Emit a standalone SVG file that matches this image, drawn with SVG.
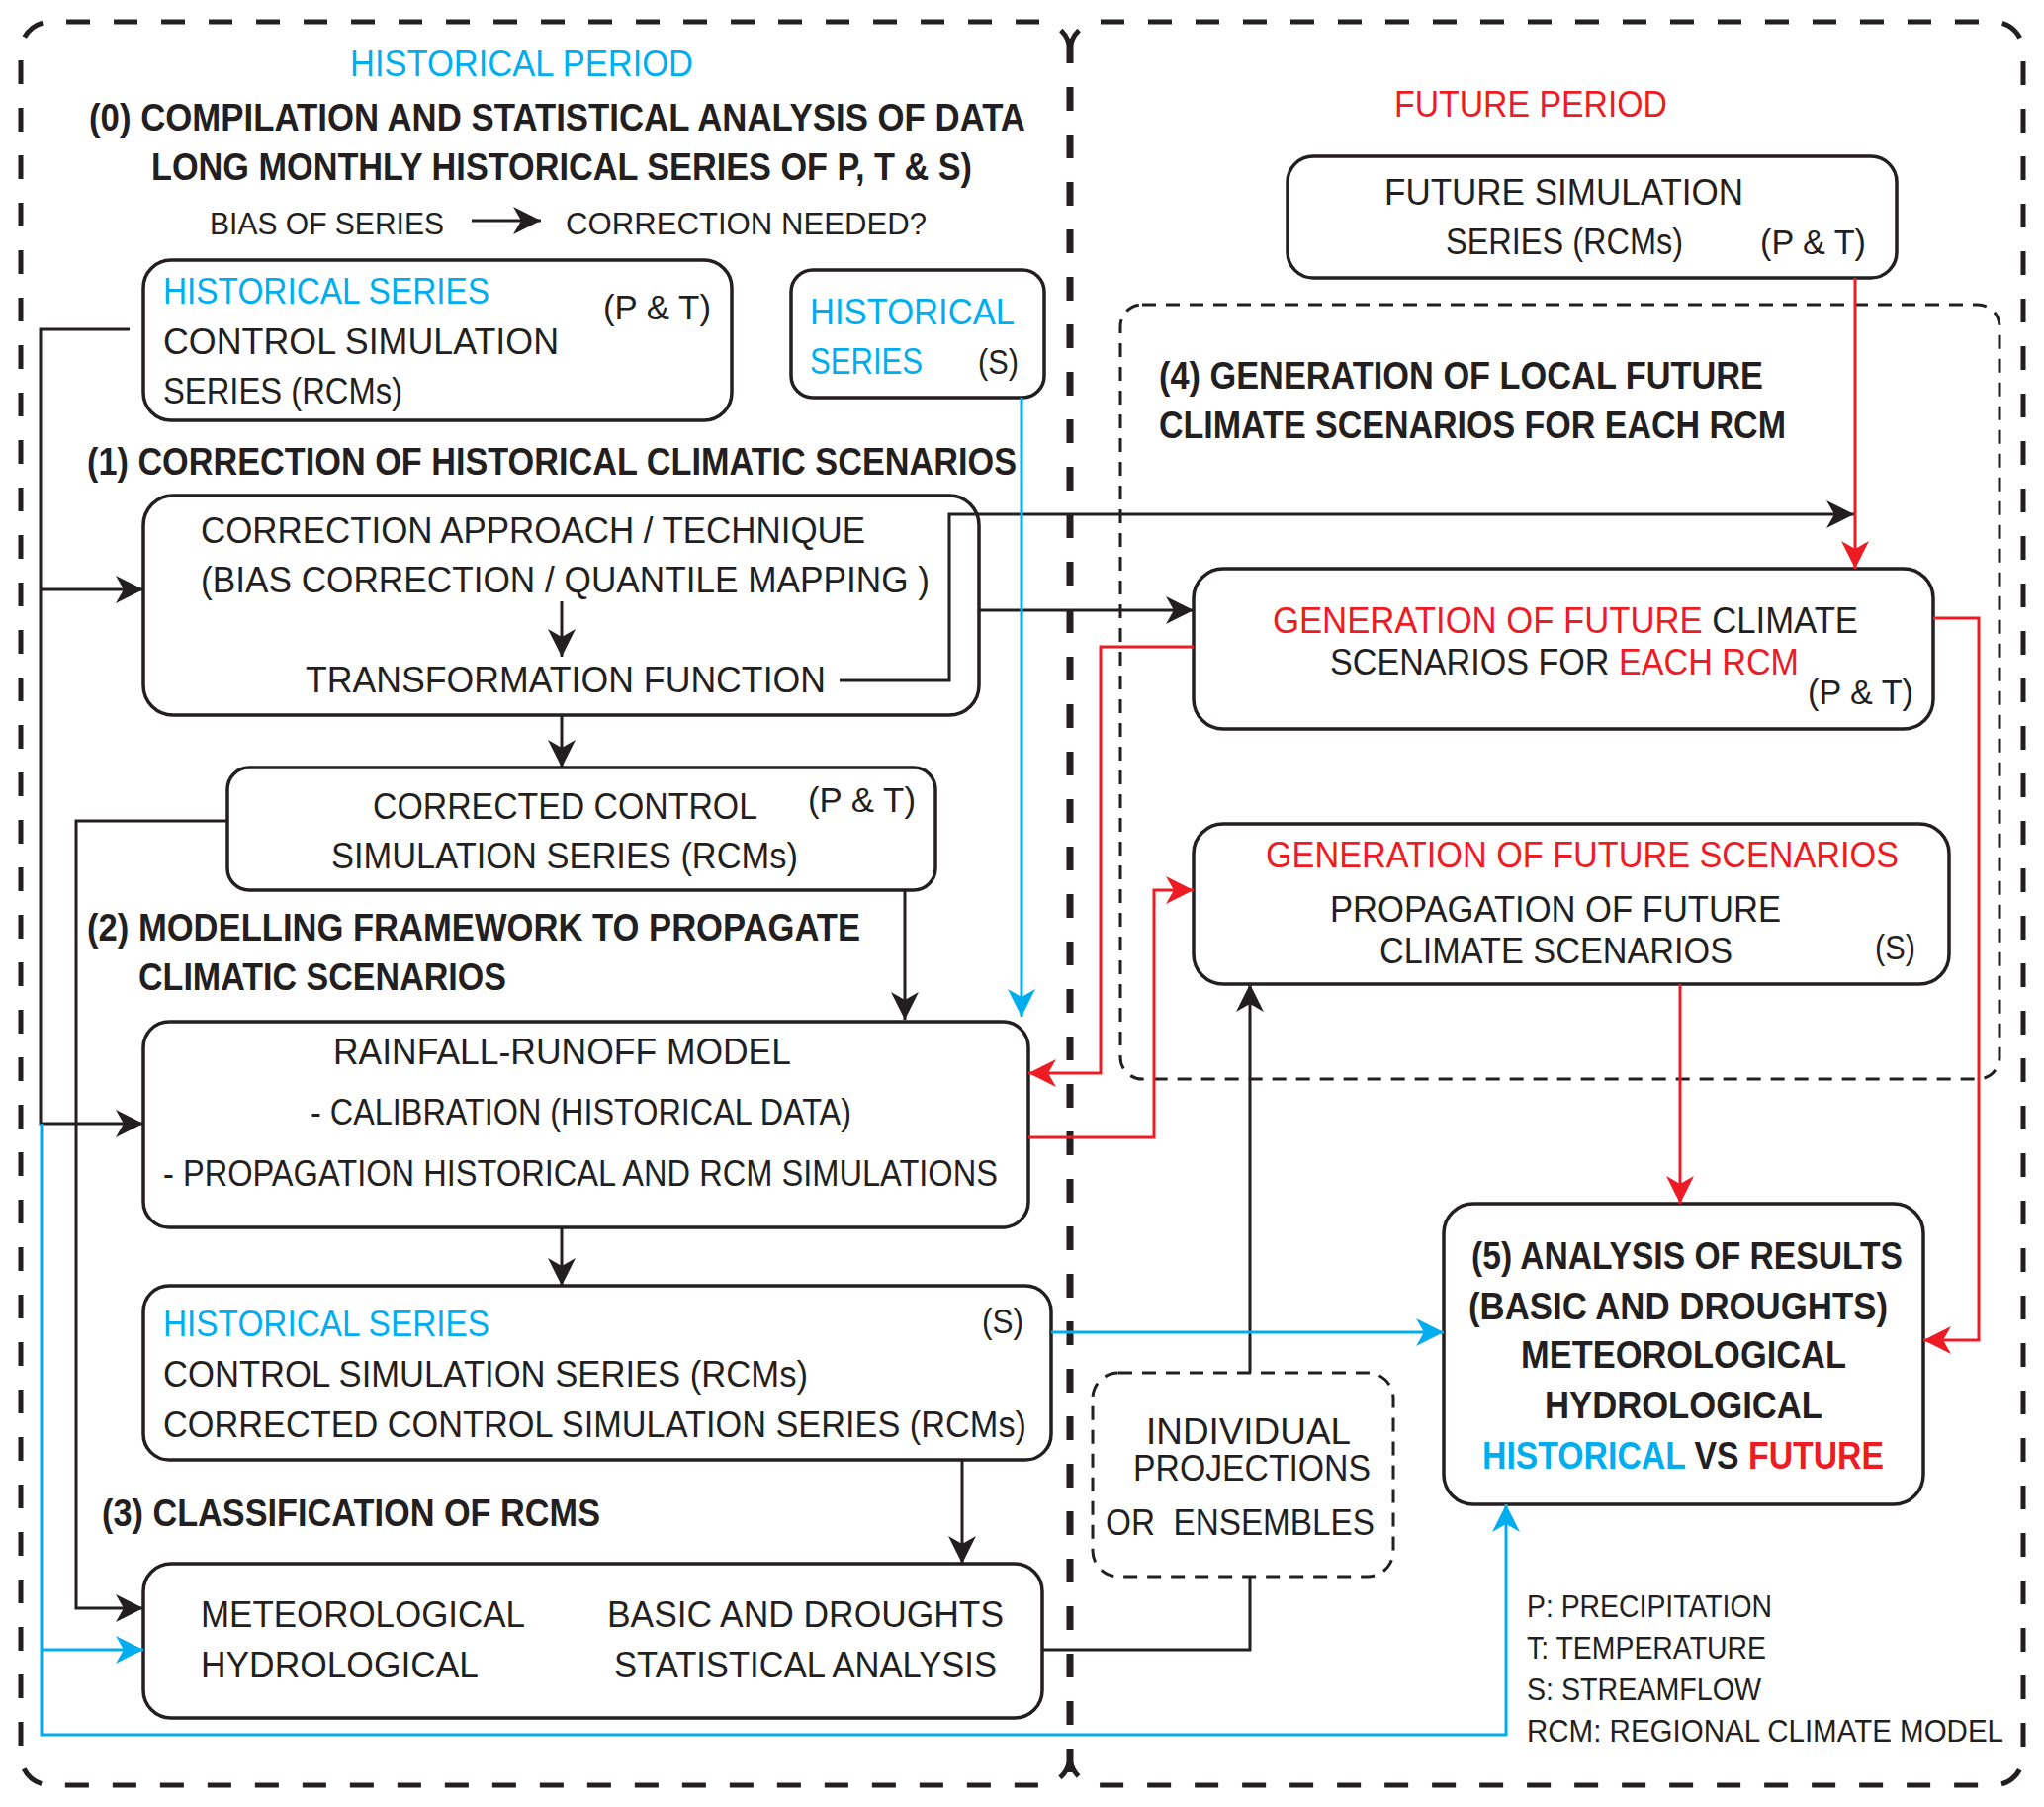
<svg xmlns="http://www.w3.org/2000/svg" width="2067" height="1827" viewBox="0 0 2067 1827">
<style>
.t{font-family:"Liberation Sans",Arial,sans-serif;font-size:37px;fill:#231F20}
.b{font-weight:bold;font-size:39px}
.bl{fill:#00AEEF}
.rd{fill:#ED1C24}
.lg{font-size:31px}
.sm{font-size:35px}
.box{fill:#fff;stroke:#231F20;stroke-width:3.5}
.frame{fill:none;stroke:#231F20;stroke-width:5;stroke-dasharray:24 24}
.dbox{fill:none;stroke:#231F20;stroke-width:3;stroke-dasharray:14 10}
.k{fill:none;stroke:#231F20;stroke-width:3}
.r{fill:none;stroke:#ED1C24;stroke-width:3}
.c{fill:none;stroke:#00AEEF;stroke-width:3}
</style>
<defs>
<marker id="ak" markerUnits="userSpaceOnUse" markerWidth="32" markerHeight="32" viewBox="-30 -16 32 32" refX="0" refY="0" orient="auto"><path d="M0,0 L-28,-14 L-20,0 L-28,14 Z" fill="#231F20"/></marker>
<marker id="ar" markerUnits="userSpaceOnUse" markerWidth="32" markerHeight="32" viewBox="-30 -16 32 32" refX="0" refY="0" orient="auto"><path d="M0,0 L-28,-14 L-20,0 L-28,14 Z" fill="#ED1C24"/></marker>
<marker id="ac" markerUnits="userSpaceOnUse" markerWidth="32" markerHeight="32" viewBox="-30 -16 32 32" refX="0" refY="0" orient="auto"><path d="M0,0 L-28,-14 L-20,0 L-28,14 Z" fill="#00AEEF"/></marker>
</defs>
<rect width="2067" height="1827" fill="#fff"/>

<g id="frames">
<path class="frame" d="M1082,52 A30,30 0 0 0 1052,22 L51,22 A30,30 0 0 0 21,52 L21,1775 A30,30 0 0 0 51,1805 L1052,1805 A30,30 0 0 0 1082,1775"/>
<path class="frame" d="M1082,52 A30,30 0 0 1 1112,22 L2016,22 A30,30 0 0 1 2046,52 L2046,1775 A30,30 0 0 1 2016,1805 L1112,1805 A30,30 0 0 1 1082,1775"/>
<path class="frame" style="stroke-width:7" d="M1082,40 L1082,1795"/>
<rect id="step4-frame" class="dbox" x="1133" y="308" width="889" height="783" rx="22"/>
</g>

<g id="titles">
<text class="t bl" x="354" y="77" textLength="347" lengthAdjust="spacingAndGlyphs">HISTORICAL PERIOD</text>
<text class="t b" x="90" y="132" textLength="947" lengthAdjust="spacingAndGlyphs">(0) COMPILATION AND STATISTICAL ANALYSIS OF DATA</text>
<text class="t b" x="153" y="182" textLength="830" lengthAdjust="spacingAndGlyphs">LONG MONTHLY HISTORICAL SERIES OF P, T &amp; S)</text>
<text class="t lg" x="212" y="237" textLength="237" lengthAdjust="spacingAndGlyphs">BIAS OF SERIES</text>
<text class="t lg" x="572" y="237" textLength="365" lengthAdjust="spacingAndGlyphs">CORRECTION NEEDED?</text>
<text class="t b" x="88" y="480" textLength="940" lengthAdjust="spacingAndGlyphs">(1) CORRECTION OF HISTORICAL CLIMATIC SCENARIOS</text>
<text class="t b" x="88" y="951" textLength="782" lengthAdjust="spacingAndGlyphs">(2) MODELLING FRAMEWORK TO PROPAGATE</text>
<text class="t b" x="140" y="1001" textLength="372" lengthAdjust="spacingAndGlyphs">CLIMATIC SCENARIOS</text>
<text class="t b" x="103" y="1543" textLength="504" lengthAdjust="spacingAndGlyphs">(3) CLASSIFICATION OF RCMS</text>
<text class="t rd" x="1410" y="118" textLength="276" lengthAdjust="spacingAndGlyphs">FUTURE PERIOD</text>
<text class="t b" x="1172" y="393" textLength="611" lengthAdjust="spacingAndGlyphs">(4) GENERATION OF LOCAL FUTURE</text>
<text class="t b" x="1172" y="443" textLength="634" lengthAdjust="spacingAndGlyphs">CLIMATE SCENARIOS FOR EACH RCM</text>
</g>

<g id="hist-series-pt">
<rect class="box" x="145" y="263" width="595" height="162" rx="28"/>
<text class="t bl" x="165" y="307" textLength="330" lengthAdjust="spacingAndGlyphs">HISTORICAL SERIES</text>
<text class="t" x="165" y="358" textLength="400" lengthAdjust="spacingAndGlyphs">CONTROL SIMULATION</text>
<text class="t" x="165" y="408" textLength="242" lengthAdjust="spacingAndGlyphs">SERIES (RCMs)</text>
<text class="t sm" x="610" y="323" textLength="109" lengthAdjust="spacingAndGlyphs">(P &amp; T)</text>
</g>

<g id="hist-series-s">
<rect class="box" x="800" y="273" width="256" height="129" rx="22"/>
<text class="t bl" x="819" y="328" textLength="207" lengthAdjust="spacingAndGlyphs">HISTORICAL</text>
<text class="t bl" x="819" y="378" textLength="114" lengthAdjust="spacingAndGlyphs">SERIES</text>
<text class="t sm" x="989" y="378" textLength="41" lengthAdjust="spacingAndGlyphs">(S)</text>
</g>

<g id="correction">
<rect class="box" x="145" y="501" width="845" height="222" rx="30"/>
<text class="t" x="203" y="549" textLength="672" lengthAdjust="spacingAndGlyphs">CORRECTION APPROACH / TECHNIQUE</text>
<text class="t" x="203" y="599" textLength="737" lengthAdjust="spacingAndGlyphs">(BIAS CORRECTION / QUANTILE MAPPING )</text>
<text class="t" x="309" y="700" textLength="526" lengthAdjust="spacingAndGlyphs">TRANSFORMATION FUNCTION</text>
</g>

<g id="corrected-control">
<rect class="box" x="230" y="776" width="716" height="124" rx="22"/>
<text class="t" x="377" y="828" textLength="389" lengthAdjust="spacingAndGlyphs">CORRECTED CONTROL</text>
<text class="t" x="335" y="878" textLength="472" lengthAdjust="spacingAndGlyphs">SIMULATION SERIES (RCMs)</text>
<text class="t sm" x="817" y="821" textLength="109" lengthAdjust="spacingAndGlyphs">(P &amp; T)</text>
</g>

<g id="rainfall-runoff">
<rect class="box" x="145" y="1033" width="895" height="208" rx="26"/>
<text class="t" x="337" y="1076" textLength="463" lengthAdjust="spacingAndGlyphs">RAINFALL-RUNOFF MODEL</text>
<text class="t" x="314" y="1137" textLength="547" lengthAdjust="spacingAndGlyphs">- CALIBRATION (HISTORICAL DATA)</text>
<text class="t" x="165" y="1199" textLength="844" lengthAdjust="spacingAndGlyphs">- PROPAGATION HISTORICAL AND RCM SIMULATIONS</text>
</g>

<g id="hist-series-s2">
<rect class="box" x="145" y="1300" width="918" height="176" rx="26"/>
<text class="t bl" x="165" y="1351" textLength="330" lengthAdjust="spacingAndGlyphs">HISTORICAL SERIES</text>
<text class="t" x="165" y="1402" textLength="652" lengthAdjust="spacingAndGlyphs">CONTROL SIMULATION SERIES (RCMs)</text>
<text class="t" x="165" y="1453" textLength="873" lengthAdjust="spacingAndGlyphs">CORRECTED CONTROL SIMULATION SERIES (RCMs)</text>
<text class="t sm" x="993" y="1348" textLength="42" lengthAdjust="spacingAndGlyphs">(S)</text>
</g>

<g id="classification">
<rect class="box" x="145" y="1581" width="909" height="156" rx="28"/>
<text class="t" x="203" y="1645" textLength="328" lengthAdjust="spacingAndGlyphs">METEOROLOGICAL</text>
<text class="t" x="203" y="1696" textLength="281" lengthAdjust="spacingAndGlyphs">HYDROLOGICAL</text>
<text class="t" x="614" y="1645" textLength="401" lengthAdjust="spacingAndGlyphs">BASIC AND DROUGHTS</text>
<text class="t" x="621" y="1696" textLength="387" lengthAdjust="spacingAndGlyphs">STATISTICAL ANALYSIS</text>
</g>

<g id="future-simulation">
<rect class="box" x="1302" y="158" width="616" height="123" rx="26"/>
<text class="t" x="1400" y="207" textLength="363" lengthAdjust="spacingAndGlyphs">FUTURE SIMULATION</text>
<text class="t" x="1462" y="257" textLength="240" lengthAdjust="spacingAndGlyphs">SERIES (RCMs)</text>
<text class="t sm" x="1780" y="257" textLength="107" lengthAdjust="spacingAndGlyphs">(P &amp; T)</text>
</g>

<g id="gen-future-climate">
<rect class="box" x="1207" y="575" width="748" height="162" rx="30"/>
<text class="t" x="1287" y="640" textLength="592" lengthAdjust="spacingAndGlyphs"><tspan class="rd">GENERATION OF FUTURE</tspan> CLIMATE</text>
<text class="t" x="1345" y="682" textLength="474" lengthAdjust="spacingAndGlyphs">SCENARIOS FOR <tspan class="rd">EACH RCM</tspan></text>
<text class="t sm" x="1828" y="712" textLength="107" lengthAdjust="spacingAndGlyphs">(P &amp; T)</text>
</g>

<g id="gen-future-scenarios">
<rect class="box" x="1207" y="833" width="764" height="162" rx="30"/>
<text class="t rd" x="1280" y="877" textLength="640" lengthAdjust="spacingAndGlyphs">GENERATION OF FUTURE SCENARIOS</text>
<text class="t" x="1345" y="932" textLength="456" lengthAdjust="spacingAndGlyphs">PROPAGATION OF FUTURE</text>
<text class="t" x="1395" y="974" textLength="357" lengthAdjust="spacingAndGlyphs">CLIMATE SCENARIOS</text>
<text class="t sm" x="1896" y="970" textLength="41" lengthAdjust="spacingAndGlyphs">(S)</text>
</g>

<g id="analysis">
<rect class="box" x="1460" y="1217" width="485" height="304" rx="30"/>
<text class="t b" x="1488" y="1283" textLength="436" lengthAdjust="spacingAndGlyphs">(5) ANALYSIS OF RESULTS</text>
<text class="t b" x="1485" y="1334" textLength="424" lengthAdjust="spacingAndGlyphs">(BASIC AND DROUGHTS)</text>
<text class="t b" x="1538" y="1383" textLength="329" lengthAdjust="spacingAndGlyphs">METEOROLOGICAL</text>
<text class="t b" x="1562" y="1434" textLength="281" lengthAdjust="spacingAndGlyphs">HYDROLOGICAL</text>
<text class="t b" x="1499" y="1485" textLength="406" lengthAdjust="spacingAndGlyphs"><tspan class="bl">HISTORICAL</tspan> VS <tspan class="rd">FUTURE</tspan></text>
</g>

<g id="individual-projections">
<rect class="dbox" x="1105" y="1388" width="304" height="206" rx="26" style="fill:#fff"/>
<text class="t" style="white-space:pre"><tspan x="1159" y="1460" textLength="207" lengthAdjust="spacingAndGlyphs">INDIVIDUAL</tspan><tspan x="1146" y="1497" textLength="240" lengthAdjust="spacingAndGlyphs">PROJECTIONS</tspan><tspan x="1118" y="1552" textLength="272" lengthAdjust="spacingAndGlyphs">OR  ENSEMBLES</tspan></text>
</g>

<g id="legend">
<text class="t lg" x="1544" y="1635" textLength="248" lengthAdjust="spacingAndGlyphs">P: PRECIPITATION</text>
<text class="t lg" x="1544" y="1677" textLength="242" lengthAdjust="spacingAndGlyphs">T: TEMPERATURE</text>
<text class="t lg" x="1544" y="1719" textLength="237" lengthAdjust="spacingAndGlyphs">S: STREAMFLOW</text>
<text class="t lg" x="1544" y="1761" textLength="482" lengthAdjust="spacingAndGlyphs">RCM: REGIONAL CLIMATE MODEL</text>
</g>

<g id="connectors">
<path class="k" d="M477,223 L547,223" marker-end="url(#ak)"/>
<path class="k" d="M131,333 L41,333 L41,1136 L145,1136" marker-end="url(#ak)"/>
<path class="k" d="M41,596 L145,596" marker-end="url(#ak)"/>
<path class="k" d="M568,608 L568,664" marker-end="url(#ak)"/>
<path class="k" d="M849,688 L960,688 L960,520 L1875,520" marker-end="url(#ak)"/>
<path class="k" d="M990,617 L1207,617" marker-end="url(#ak)"/>
<path class="k" d="M568,723 L568,776" marker-end="url(#ak)"/>
<path class="k" d="M230,830 L77,830 L77,1626 L145,1626" marker-end="url(#ak)"/>
<path class="k" d="M915,900 L915,1031" marker-end="url(#ak)"/>
<path class="k" d="M568,1241 L568,1300" marker-end="url(#ak)"/>
<path class="k" d="M973,1476 L973,1581" marker-end="url(#ak)"/>
<path class="k" d="M1054,1668 L1264,1668 L1264,1594"/>
<path class="k" d="M1264,1388 L1264,995" marker-end="url(#ak)"/>
<path class="r" d="M1876,281 L1876,575" marker-end="url(#ar)"/>
<path class="r" d="M1207,654 L1113,654 L1113,1085 L1040,1085" marker-end="url(#ar)"/>
<path class="r" d="M1040,1150 L1167,1150 L1167,900 L1207,900" marker-end="url(#ar)"/>
<path class="r" d="M1955,625 L2001,625 L2001,1355 L1945,1355" marker-end="url(#ar)"/>
<path class="r" d="M1699,995 L1699,1217" marker-end="url(#ar)"/>
<path class="c" d="M1033,402 L1033,1028" marker-end="url(#ac)"/>
<path class="c" d="M1063,1347 L1460,1347" marker-end="url(#ac)"/>
<path class="c" d="M42,1136 L42,1754 L1523,1754 L1523,1521" marker-end="url(#ac)"/>
<path class="c" d="M42,1668 L145,1668" marker-end="url(#ac)"/>
</g>
</svg>
